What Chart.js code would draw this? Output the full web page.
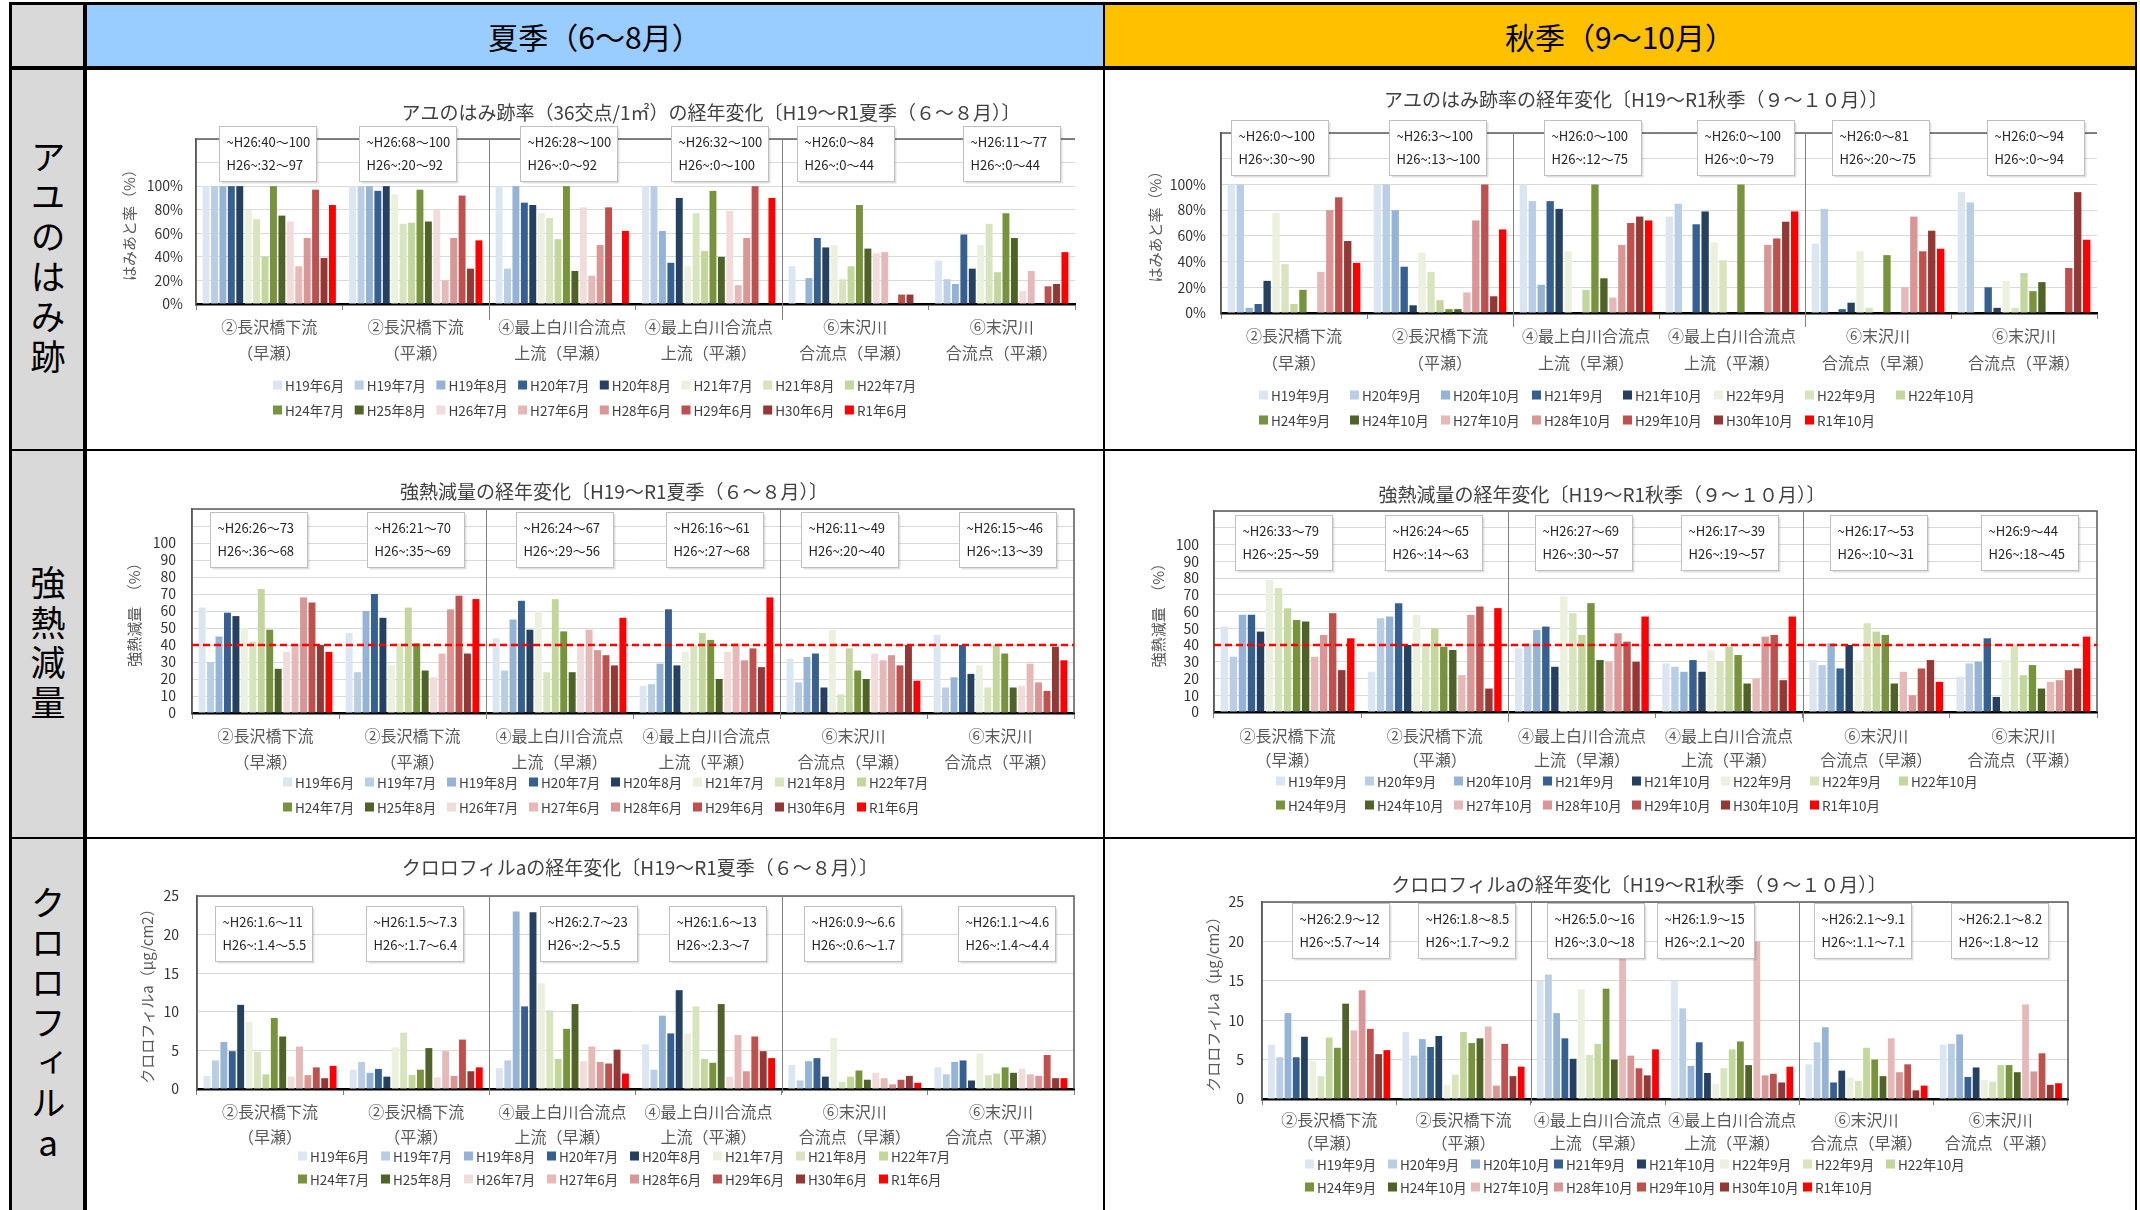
<!DOCTYPE html>
<html lang="ja">
<head>
<meta charset="utf-8" />
<title>アユのはみ跡・強熱減量・クロロフィルaの経年変化</title>
<script src="https://cdn.jsdelivr.net/npm/chart.js@4.4.0/dist/chart.umd.min.js"></script>
<style>
    body { margin: 0; width: 2140px; height: 1210px; background: #fff; position: relative; overflow: hidden;
           font-family: "Noto Sans CJK JP", sans-serif; }
    .box { position: absolute; box-sizing: border-box; }
    .head { display: flex; align-items: center; justify-content: center; font-size: 30px; color: #000; }
    .rowlab { position: absolute; left: 10px; width: 76px; display: flex; align-items: center; justify-content: center; }
    .rowlab span { writing-mode: vertical-rl; text-orientation: upright; font-size: 35px; letter-spacing: 5px; color: #000; }
    canvas { position: absolute; }
    .ln { position: absolute; background: #000; z-index: 5; }
</style>
</head>
<body>

    <div class="box" style="left:10px;top:4px;width:76px;height:1206px;background:#d9d9d9"></div>
    <div class="box head" style="left:86px;top:4px;width:1018px;height:64px;background:#99ccff">夏季（6～8月）</div>
    <div class="box head" style="left:1104px;top:4px;width:1032px;height:64px;background:#ffc000">秋季（9～10月）</div>

    <div class="rowlab" style="top:68px;height:382px"><span>アユのはみ跡</span></div>
    <div class="rowlab" style="top:451px;height:387px"><span>強熱減量</span></div>
    <div class="rowlab" style="top:839px;height:371px"><span>クロロフィルa</span></div>

    <canvas id="hamiS" width="1017" height="381" style="left:86px;top:68px"></canvas>
    <canvas id="hamiA" width="1029" height="381" style="left:1105px;top:68px"></canvas>
    <canvas id="ignS" width="1017" height="385" style="left:86px;top:452px"></canvas>
    <canvas id="ignA" width="1029" height="385" style="left:1105px;top:452px"></canvas>
    <canvas id="chlS" width="1017" height="370" style="left:86px;top:840px"></canvas>
    <canvas id="chlA" width="1029" height="370" style="left:1105px;top:840px"></canvas>

    <!-- table rules -->
    <div class="ln" style="left:9px;top:2px;width:2128px;height:3px"></div>
    <div class="ln" style="left:9px;top:66px;width:2128px;height:4px"></div>
    <div class="ln" style="left:9px;top:449px;width:2128px;height:2px"></div>
    <div class="ln" style="left:9px;top:837px;width:2128px;height:2px"></div>
    <div class="ln" style="left:9px;top:2px;width:3px;height:1208px"></div>
    <div class="ln" style="left:83px;top:2px;width:4px;height:1208px"></div>
    <div class="ln" style="left:1103px;top:2px;width:2px;height:1208px"></div>
    <div class="ln" style="left:2135px;top:2px;width:2px;height:1208px"></div>

    <script>

        // categories (two-line tick labels)
        const sites = [
            ['②長沢橋下流', '（早瀬）'],
            ['②長沢橋下流', '（平瀬）'],
            ['④最上白川合流点', '上流（早瀬）'],
            ['④最上白川合流点', '上流（平瀬）'],
            ['⑥末沢川', '合流点（早瀬）'],
            ['⑥末沢川', '合流点（平瀬）']
        ];

        const summerSeries = ['H19年6月', 'H19年7月', 'H19年8月', 'H20年7月', 'H20年8月', 'H21年7月', 'H21年8月', 'H22年7月',
            'H24年7月', 'H25年8月', 'H26年7月', 'H27年6月', 'H28年6月', 'H29年6月', 'H30年6月', 'R1年6月'];
        const autumnSeries = ['H19年9月', 'H20年9月', 'H20年10月', 'H21年9月', 'H21年10月', 'H22年9月', 'H22年9月', 'H22年10月',
            'H24年9月', 'H24年10月', 'H27年10月', 'H28年10月', 'H29年10月', 'H30年10月', 'R1年10月'];

        var summerColors = ['#dce6f2', '#b9cde5', '#95b3d7', '#376092', '#254061', '#ebf1de', '#d7e4bd', '#c3d69b',
            '#77933c', '#4f6228', '#f2dcdb', '#e6b9b8', '#d99694', '#c0504d', '#953735', '#ff0000'];
        var autumnColors = ['#dce6f2', '#b9cde5', '#95b3d7', '#376092', '#254061', '#ebf1de', '#d7e4bd', '#c3d69b',
            '#77933c', '#4f6228', '#e6b9b8', '#d99694', '#c0504d', '#953735', '#ff0000'];

        // one row per site, one value per series (%)
        const hamiSummer = [
            [100, 100, 100, 100, 100, 80, 72, 40, 100, 75, 70, 32, 56, 97, 39, 84],
            [100, 100, 100, 96, 100, 93, 68, 69, 97, 70, 80, 20, 56, 92, 30, 54],
            [100, 30, 100, 86, 84, 77, 73, 55, 100, 28, 82, 24, 50, 82, 0, 62],
            [100, 100, 62, 35, 90, 32, 77, 45, 96, 40, 79, 16, 56, 100, 0, 90],
            [32, 0, 22, 56, 48, 50, 21, 32, 84, 47, 43, 44, 0, 8, 8, 0],
            [37, 21, 17, 59, 30, 50, 68, 27, 77, 56, 11, 28, 0, 15, 17, 44]
        ];
        const hamiAutumn = [
            [100, 100, 4, 7, 25, 78, 38, 7, 18, 0, 32, 80, 90, 56, 39],
            [100, 100, 80, 36, 6, 47, 32, 10, 3, 3, 16, 72, 100, 13, 65],
            [100, 87, 22, 87, 81, 48, 0, 18, 100, 27, 12, 53, 70, 75, 72],
            [75, 85, 0, 69, 79, 55, 41, 0, 100, 0, 0, 53, 58, 71, 79],
            [54, 81, 0, 3, 8, 48, 4, 0, 45, 0, 20, 75, 48, 64, 50],
            [94, 86, 0, 20, 4, 25, 4, 31, 17, 24, 0, 0, 35, 94, 57]
        ];
        const ignSummer = [
            [62, 30, 45, 59, 57, 50, 42, 73, 49, 26, 36, 40, 68, 65, 40, 36],
            [47, 24, 60, 70, 56, 28, 41, 62, 41, 25, 21, 35, 61, 69, 35, 67],
            [44, 25, 55, 66, 49, 60, 24, 67, 48, 24, 40, 49, 37, 34, 28, 56],
            [16, 17, 29, 61, 28, 36, 40, 47, 43, 20, 36, 41, 31, 38, 27, 68],
            [32, 18, 33, 35, 15, 49, 11, 38, 25, 20, 35, 31, 34, 28, 40, 19],
            [46, 15, 21, 40, 23, 28, 15, 40, 35, 15, 16, 29, 18, 13, 39, 31]
        ];
        const ignAutumn = [
            [51, 33, 58, 58, 48, 79, 74, 62, 55, 54, 33, 46, 59, 25, 44],
            [24, 56, 57, 65, 40, 58, 40, 50, 39, 37, 22, 58, 63, 14, 62],
            [38, 41, 49, 51, 27, 69, 59, 46, 65, 31, 30, 47, 42, 30, 57],
            [29, 27, 24, 31, 24, 37, 30, 39, 34, 17, 20, 45, 46, 19, 57],
            [31, 28, 41, 26, 40, 31, 53, 48, 46, 17, 24, 10, 26, 31, 18],
            [21, 29, 30, 44, 9, 31, 40, 22, 28, 14, 18, 19, 25, 26, 45]
        ];
        // μg/cm2
        const chlSummer = [
            [1.7, 3.7, 6.1, 4.9, 10.9, 8.7, 4.8, 1.9, 9.2, 6.8, 1.6, 5.5, 1.8, 2.8, 1.4, 3.0],
            [2.5, 3.5, 2.1, 2.6, 1.6, 5.4, 7.3, 1.8, 2.5, 5.3, 1.5, 4.9, 1.7, 6.4, 2.3, 2.8],
            [2.7, 3.7, 23, 10.7, 22.9, 13.7, 10.2, 3.9, 7.8, 11, 3.6, 5.5, 3.5, 3.3, 5.1, 2.0],
            [5.8, 2.5, 9.5, 7.2, 12.8, 7.2, 10.7, 3.9, 3.4, 11, 1.6, 7.0, 2.3, 6.8, 4.9, 4.0],
            [3.1, 1.1, 3.6, 4.0, 1.6, 6.6, 0.9, 1.6, 2.4, 1.2, 2.1, 1.4, 0.6, 1.2, 1.7, 0.8],
            [2.8, 1.9, 3.5, 3.7, 1.1, 4.6, 1.8, 2.0, 2.8, 2.1, 2.6, 1.9, 1.7, 4.4, 1.4, 1.4]
        ];
        const chlAutumn = [
            [6.9, 5.3, 10.9, 5.3, 7.9, 4.8, 2.9, 7.8, 6.5, 12.1, 8.7, 13.8, 8.9, 5.7, 6.2],
            [8.5, 5.5, 7.6, 6.6, 8.0, 1.8, 3.1, 8.5, 7.1, 7.7, 9.2, 1.7, 7.0, 2.9, 4.1],
            [15, 15.8, 10.9, 7.7, 5.1, 13.9, 5.6, 7.0, 14, 5.0, 18, 5.5, 3.9, 3.0, 6.3],
            [15, 11.5, 4.2, 7.2, 3.3, 1.9, 3.9, 6.3, 7.3, 4.3, 20, 3.0, 3.2, 2.1, 4.1],
            [4.4, 7.2, 9.1, 2.1, 3.6, 2.7, 2.3, 6.5, 5.0, 2.9, 7.7, 3.4, 4.4, 1.1, 1.7],
            [6.9, 7.0, 8.2, 2.8, 4.0, 2.4, 2.2, 4.3, 4.3, 3.4, 12, 3.5, 5.8, 1.8, 2.0]
        ];

        // range notes above each site
        const hamiSummerNotes = [['~H26:40～100', 'H26~:32～97'], ['~H26:68～100', 'H26~:20～92'], ['~H26:28～100', 'H26~:0～92'],
            ['~H26:32～100', 'H26~:0～100'], ['~H26:0～84', 'H26~:0～44'], ['~H26:11～77', 'H26~:0～44']];
        const hamiAutumnNotes = [['~H26:0～100', 'H26~:30～90'], ['~H26:3～100', 'H26~:13～100'], ['~H26:0～100', 'H26~:12～75'],
            ['~H26:0～100', 'H26~:0～79'], ['~H26:0～81', 'H26~:20～75'], ['~H26:0～94', 'H26~:0～94']];
        const ignSummerNotes = [['~H26:26～73', 'H26~:36～68'], ['~H26:21～70', 'H26~:35～69'], ['~H26:24～67', 'H26~:29～56'],
            ['~H26:16～61', 'H26~:27～68'], ['~H26:11～49', 'H26~:20～40'], ['~H26:15～46', 'H26~:13～39']];
        const ignAutumnNotes = [['~H26:33～79', 'H26~:25～59'], ['~H26:24～65', 'H26~:14～63'], ['~H26:27～69', 'H26~:30～57'],
            ['~H26:17～39', 'H26~:19～57'], ['~H26:17～53', 'H26~:10～31'], ['~H26:9～44', 'H26~:18～45']];
        const chlSummerNotes = [['~H26:1.6～11', 'H26~:1.4～5.5'], ['~H26:1.5～7.3', 'H26~:1.7～6.4'], ['~H26:2.7～23', 'H26~:2～5.5'],
            ['~H26:1.6～13', 'H26~:2.3～7'], ['~H26:0.9～6.6', 'H26~:0.6～1.7'], ['~H26:1.1～4.6', 'H26~:1.4～4.4']];
        const chlAutumnNotes = [['~H26:2.9～12', 'H26~:5.7～14'], ['~H26:1.8～8.5', 'H26~:1.7～9.2'], ['~H26:5.0～16', 'H26~:3.0～18'],
            ['~H26:1.9～15', 'H26~:2.1～20'], ['~H26:2.1～9.1', 'H26~:1.1～7.1'], ['~H26:2.1～8.2', 'H26~:1.8～12']];

        const ignGuide = 40;  // red dashed reference line

        Chart.defaults.font.family = '"Noto Sans CJK JP", sans-serif';

        // title, legend grid, note boxes, frame, dividers (Excel look)
        const sheetDecor = {
            id: 'sheetDecor',
            afterDatasetsDraw(chart, args, o) {
                const ctx = chart.ctx, a = chart.chartArea, x = chart.scales.x, y = chart.scales.y;
                ctx.save();

                ctx.strokeStyle = '#595959';
                ctx.lineWidth = 1.5;
                ctx.beginPath();
                ctx.moveTo(a.left, a.bottom);
                ctx.lineTo(a.left, a.top);
                ctx.lineTo(a.right, a.top);
                if (o.g.frameRight) ctx.lineTo(a.right, a.bottom);
                ctx.stroke();

                ctx.strokeStyle = '#808080';
                ctx.lineWidth = 1;
                [1, 3].forEach(function (i) {
                    var px = Math.round((x.getPixelForValue(i) + x.getPixelForValue(i + 1)) / 2) + 0.5;
                    ctx.beginPath();
                    ctx.moveTo(px, a.top);
                    ctx.lineTo(px, a.bottom + o.g.divDrop);
                    ctx.stroke();
                });

                if (o.guide != null) {
                    var gy = y.getPixelForValue(o.guide);
                    ctx.strokeStyle = '#ff0000';
                    ctx.lineWidth = 2.5;
                    ctx.setLineDash([7, 4]);
                    ctx.beginPath();
                    ctx.moveTo(a.left, gy);
                    ctx.lineTo(a.right, gy);
                    ctx.stroke();
                    ctx.setLineDash([]);
                }

                // note boxes
                ctx.font = '13px "Noto Sans CJK JP"';
                ctx.textBaseline = 'middle';
                ctx.textAlign = 'left';
                o.notes.forEach(function (n, i) {
                    var bw = 97, bh = 55;
                    var bx = Math.round(x.getPixelForValue(i) + o.g.noteDx[i] - bw / 2) + 0.5, by = o.g.noteY + 0.5;
                    ctx.fillStyle = 'rgba(0,0,0,0.12)';
                    ctx.fillRect(bx + 2, by + 2, bw, bh);
                    ctx.fillStyle = '#fff';
                    ctx.fillRect(bx, by, bw, bh);
                    ctx.strokeStyle = '#bfbfbf';
                    ctx.lineWidth = 1;
                    ctx.strokeRect(bx, by, bw, bh);
                    ctx.fillStyle = '#262626';
                    ctx.fillText(n[0], bx + 7, by + 16);
                    ctx.fillText(n[1], bx + 7, by + 39);
                });

                // title
                ctx.font = '19px "Noto Sans CJK JP"';
                ctx.textAlign = 'center';
                ctx.fillStyle = '#404040';
                ctx.fillText(o.title, o.g.titleX, o.g.titleY);

                // legend, 8 per row
                ctx.font = '13.5px "Noto Sans CJK JP"';
                ctx.textAlign = 'left';
                chart.data.datasets.forEach(function (ds, i) {
                    var row = Math.floor(i / 8), col = i % 8;
                    var lx = o.g.legX + col * o.g.colW, ly = o.g.legY[row];
                    ctx.fillStyle = ds.backgroundColor;
                    ctx.fillRect(lx, ly - 4.5, 9, 9);
                    ctx.fillStyle = '#404040';
                    ctx.fillText(ds.label, lx + 12, ly + 1);
                });

                ctx.restore();
            }
        };

        function drawChart(id, g, c) {
            var canvas = document.getElementById(id);
            var W = canvas.width, H = canvas.height, xh = 60;
            return new Chart(canvas, {
                type: 'bar',
                data: {
                    labels: sites,
                    datasets: c.series.map(function (name, s) {
                        return {
                            label: name,
                            data: c.rows.map(function (r) { return r[s]; }),
                            backgroundColor: c.colors[s],
                            borderWidth: 0,
                            categoryPercentage: 0.92,
                            barPercentage: 0.82
                        };
                    })
                },
                options: {
                    responsive: false,
                    animation: false,
                    layout: { padding: { left: 0, top: g.T, right: W - g.R, bottom: H - g.B - xh } },
                    plugins: {
                        legend: { display: false },
                        title: { display: false },
                        tooltip: { enabled: false },
                        sheetDecor: { g: g, title: c.title, notes: c.notes, guide: c.guide }
                    },
                    scales: {
                        x: {
                            grid: { display: true, drawOnChartArea: false, tickLength: 6, color: '#808080' },
                            border: { color: '#000', width: 2.5 },
                            ticks: {
                                autoSkip: false, maxRotation: 0, color: '#595959',
                                font: { size: 16, lineHeight: g.xGap / 16 },
                                padding: g.xOff - 6 - g.xGap / 2
                            },
                            afterFit: function (s) { s.height = xh; }
                        },
                        y: {
                            min: 0,
                            max: c.yMax,
                            grid: { color: '#d9d9d9', drawTicks: false },
                            border: { color: '#595959', width: 1.5 },
                            ticks: {
                                stepSize: c.yStep, padding: g.tickPad, color: '#333', autoSkip: false,
                                font: { size: 14 },
                                callback: function (v) { return v > c.yTop ? '' : v + c.unit; }
                            },
                            title: {
                                display: true, text: c.yTitle, color: '#595959',
                                font: { size: 15, lineHeight: 1.2 },
                                padding: { top: g.yTitleX - 9, bottom: 0 }
                            },
                            afterFit: function (s) { s.width = g.L; }
                        }
                    }
                },
                plugins: [sheetDecor]
            });
        }

        drawChart('hamiS',
            { L: 110, R: 989, T: 71, B: 236, titleX: 625, titleY: 45, yTitleX: 43, tickPad: 13, xOff: 23, xGap: 26,
              noteY: 58, noteDx: [-2, -8, 6, 11, -10, 10], legX: 187, colW: 81.7, legY: [317, 342], frameRight: false, divDrop: 16 },
            { title: 'アユのはみ跡率（36交点/1㎡）の経年変化〔H19～R1夏季（６～８月）〕', yTitle: 'はみあと率（%）',
              series: summerSeries, colors: summerColors, rows: hamiSummer, notes: hamiSummerNotes,
              yMax: 140, yStep: 20, yTop: 100, unit: '%' });

        drawChart('hamiA',
            { L: 116, R: 992, T: 65, B: 245, titleX: 531, titleY: 32, yTitleX: 50, tickPad: 15, xOff: 23, xGap: 27,
              noteY: 52, noteDx: [-15, -3, 6, 13, 2, 11], legX: 154, colW: 91, legY: [327, 352], frameRight: false, divDrop: 14 },
            { title: 'アユのはみ跡率の経年変化〔H19～R1秋季（９～１０月）〕', yTitle: 'はみあと率（%）',
              series: autumnSeries, colors: autumnColors, rows: hamiAutumn, notes: hamiAutumnNotes,
              yMax: 140, yStep: 20, yTop: 100, unit: '%' });

        drawChart('ignS',
            { L: 106, R: 988, T: 57, B: 261, titleX: 528, titleY: 40, yTitleX: 48, tickPad: 16, xOff: 23, xGap: 26,
              noteY: 60, noteDx: [-7, 3, 5, 8, -4, 7], legX: 197, colW: 82, legY: [330, 355], frameRight: true, divDrop: 6 },
            { title: '強熱減量の経年変化〔H19～R1夏季（６～８月）〕', yTitle: '強熱減量　（%）',
              series: summerSeries, colors: summerColors, rows: ignSummer, notes: ignSummerNotes, guide: ignGuide,
              yMax: 120, yStep: 10, yTop: 100, unit: '' });

        drawChart('ignA',
            { L: 109, R: 992, T: 59, B: 260, titleX: 497, titleY: 43, yTitleX: 53, tickPad: 15, xOff: 24, xGap: 24,
              noteY: 63, noteDx: [-4, -1, 2, 0, 2, 6], legX: 171, colW: 89, legY: [329, 353], frameRight: true, divDrop: 10 },
            { title: '強熱減量の経年変化〔H19～R1秋季（９～１０月）〕', yTitle: '強熱減量　（%）',
              series: autumnSeries, colors: autumnColors, rows: ignAutumn, notes: ignAutumnNotes, guide: ignGuide,
              yMax: 120, yStep: 10, yTop: 100, unit: '' });

        drawChart('chlS',
            { L: 111, R: 988, T: 56, B: 249, titleX: 554, titleY: 28, yTitleX: 61, tickPad: 18, xOff: 23, xGap: 25,
              noteY: 66, noteDx: [-7, -2, 26, 9, -2, 6], legX: 212, colW: 83, legY: [316, 339], frameRight: true, divDrop: 4 },
            { title: 'クロロフィルaの経年変化〔H19～R1夏季（６～８月）〕', yTitle: 'クロロフィルa（μg/cm2）',
              series: summerSeries, colors: summerColors, rows: chlSummer, notes: chlSummerNotes,
              yMax: 25, yStep: 5, yTop: 25, unit: '' });

        drawChart('chlA',
            { L: 157, R: 963, T: 62, B: 259, titleX: 534, titleY: 45, yTitleX: 108, tickPad: 18, xOff: 21, xGap: 23,
              noteY: 63, noteDx: [11, 3, -2, -27, -4, -1], legX: 200, colW: 83, legY: [324, 347], frameRight: true, divDrop: 4 },
            { title: 'クロロフィルaの経年変化〔H19～R1秋季（９～１０月）〕', yTitle: 'クロロフィルa（μg/cm2）',
              series: autumnSeries, colors: autumnColors, rows: chlAutumn, notes: chlAutumnNotes,
              yMax: 25, yStep: 5, yTop: 25, unit: '' });

    </script>
</body>
</html>
